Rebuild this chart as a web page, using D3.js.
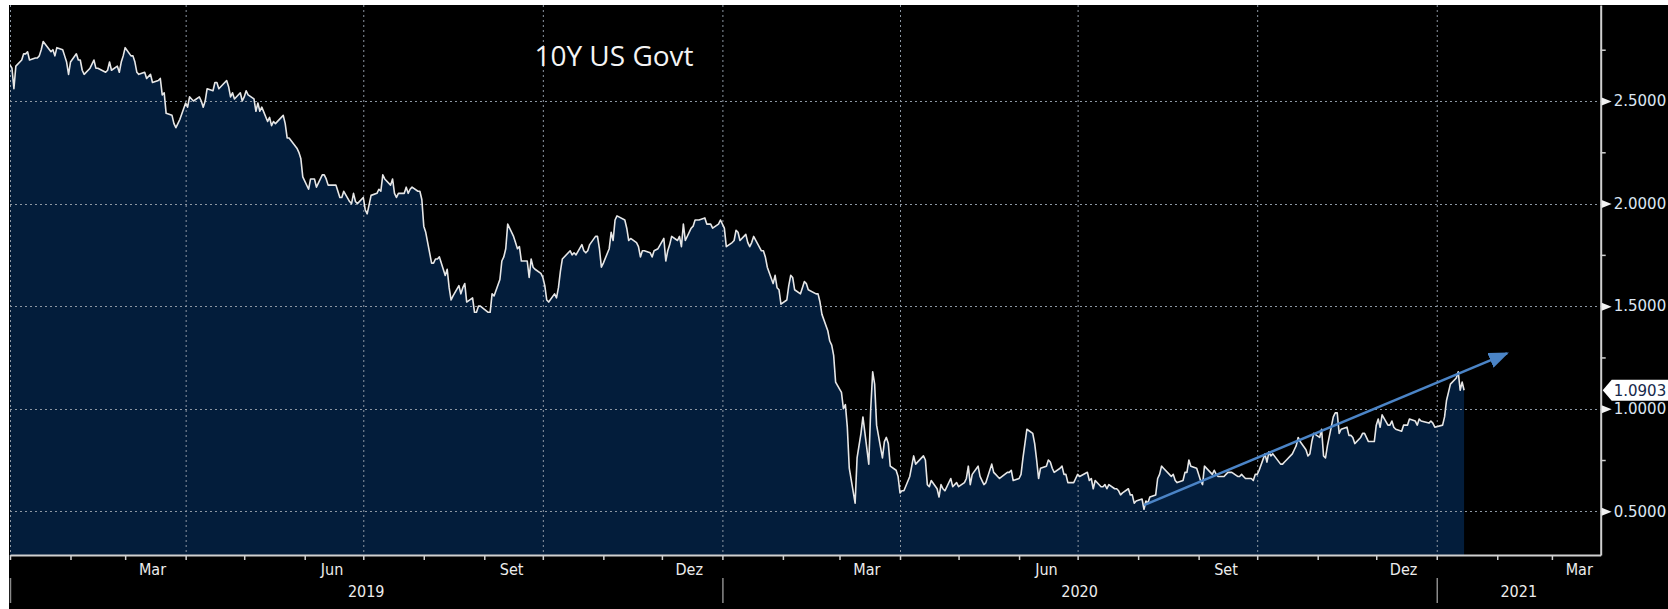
<!DOCTYPE html>
<html>
<head>
<meta charset="utf-8">
<script src="https://cdn.jsdelivr.net/npm/d3@7"></script>
<style>
  html, body { margin: 0; padding: 0; background: #fff; }
  svg { display: block; }
</style>
</head>
<body>
<svg id="chart" width="1668" height="609"></svg>
<script>
// 10Y US Govt yield, daily close (MM-DD, %)
const y2018 = [['12-31', 2.69]];
const y2019 = [
  ['01-02', 2.66], ['01-03', 2.56], ['01-04', 2.67], ['01-07', 2.70], ['01-08', 2.73], ['01-09', 2.73], ['01-10', 2.74],
  ['01-11', 2.70], ['01-14', 2.71], ['01-15', 2.71], ['01-16', 2.72], ['01-17', 2.75], ['01-18', 2.79], ['01-22', 2.74],
  ['01-23', 2.75], ['01-24', 2.72], ['01-25', 2.76], ['01-28', 2.75], ['01-29', 2.72], ['01-30', 2.69], ['01-31', 2.63],
  ['02-01', 2.69], ['02-04', 2.73], ['02-05', 2.70], ['02-06', 2.70], ['02-07', 2.65], ['02-08', 2.63], ['02-11', 2.66],
  ['02-12', 2.68], ['02-13', 2.70], ['02-14', 2.66], ['02-15', 2.66], ['02-19', 2.64], ['02-20', 2.65], ['02-21', 2.69],
  ['02-22', 2.65], ['02-25', 2.67], ['02-26', 2.64], ['02-27', 2.69], ['02-28', 2.72], ['03-01', 2.76], ['03-04', 2.72],
  ['03-05', 2.72], ['03-06', 2.69], ['03-07', 2.64], ['03-08', 2.63], ['03-11', 2.64], ['03-12', 2.61], ['03-13', 2.62],
  ['03-14', 2.63], ['03-15', 2.59], ['03-18', 2.60], ['03-19', 2.61], ['03-20', 2.53], ['03-21', 2.54], ['03-22', 2.44],
  ['03-25', 2.43], ['03-26', 2.39], ['03-27', 2.37], ['03-28', 2.39], ['03-29', 2.41], ['04-01', 2.49], ['04-02', 2.47],
  ['04-03', 2.52], ['04-04', 2.51], ['04-05', 2.50], ['04-08', 2.52], ['04-09', 2.50], ['04-10', 2.47], ['04-11', 2.50],
  ['04-12', 2.56], ['04-15', 2.55], ['04-16', 2.59], ['04-17', 2.59], ['04-18', 2.56], ['04-22', 2.60], ['04-23', 2.57],
  ['04-24', 2.52], ['04-25', 2.54], ['04-26', 2.51], ['04-29', 2.54], ['04-30', 2.50], ['05-01', 2.52], ['05-02', 2.55],
  ['05-03', 2.53], ['05-06', 2.51], ['05-07', 2.45], ['05-08', 2.49], ['05-09', 2.45], ['05-10', 2.47], ['05-13', 2.40],
  ['05-14', 2.42], ['05-15', 2.38], ['05-16', 2.40], ['05-17', 2.39], ['05-20', 2.42], ['05-21', 2.43], ['05-22', 2.39],
  ['05-23', 2.32], ['05-24', 2.32], ['05-28', 2.27], ['05-29', 2.25], ['05-30', 2.22], ['05-31', 2.13], ['06-03', 2.07],
  ['06-04', 2.12], ['06-05', 2.12], ['06-06', 2.12], ['06-07', 2.08], ['06-10', 2.14], ['06-11', 2.14], ['06-12', 2.12],
  ['06-13', 2.09], ['06-14', 2.09], ['06-17', 2.09], ['06-18', 2.06], ['06-19', 2.03], ['06-20', 2.03], ['06-21', 2.06],
  ['06-24', 2.01], ['06-25', 2.00], ['06-26', 2.05], ['06-27', 2.01], ['06-28', 2.00], ['07-01', 2.03], ['07-02', 1.97],
  ['07-03', 1.95], ['07-05', 2.04], ['07-08', 2.05], ['07-09', 2.07], ['07-10', 2.06], ['07-11', 2.14], ['07-12', 2.12],
  ['07-15', 2.09], ['07-16', 2.12], ['07-17', 2.05], ['07-18', 2.03], ['07-19', 2.05], ['07-22', 2.05], ['07-23', 2.08],
  ['07-24', 2.05], ['07-25', 2.07], ['07-26', 2.08], ['07-29', 2.06], ['07-30', 2.06], ['07-31', 2.02], ['08-01', 1.89],
  ['08-02', 1.86], ['08-05', 1.71], ['08-06', 1.71], ['08-07', 1.73], ['08-08', 1.73], ['08-09', 1.74], ['08-12', 1.65],
  ['08-13', 1.68], ['08-14', 1.59], ['08-15', 1.53], ['08-16', 1.55], ['08-19', 1.60], ['08-20', 1.56], ['08-21', 1.59],
  ['08-22', 1.61], ['08-23', 1.52], ['08-26', 1.54], ['08-27', 1.47], ['08-28', 1.47], ['08-29', 1.50], ['08-30', 1.50],
  ['09-03', 1.47], ['09-04', 1.47], ['09-05', 1.56], ['09-06', 1.55], ['09-09', 1.63], ['09-10', 1.72], ['09-11', 1.74],
  ['09-12', 1.78], ['09-13', 1.90], ['09-16', 1.84], ['09-17', 1.81], ['09-18', 1.78], ['09-19', 1.79], ['09-20', 1.72],
  ['09-23', 1.72], ['09-24', 1.64], ['09-25', 1.73], ['09-26', 1.69], ['09-27', 1.68], ['09-30', 1.66], ['10-01', 1.64],
  ['10-02', 1.60], ['10-03', 1.53], ['10-04', 1.52], ['10-07', 1.56], ['10-08', 1.54], ['10-09', 1.59], ['10-10', 1.67],
  ['10-11', 1.73], ['10-15', 1.77], ['10-16', 1.75], ['10-17', 1.76], ['10-18', 1.75], ['10-21', 1.80], ['10-22', 1.77],
  ['10-23', 1.76], ['10-24', 1.77], ['10-25', 1.80], ['10-28', 1.84], ['10-29', 1.84], ['10-30', 1.78], ['10-31', 1.69],
  ['11-01', 1.71], ['11-04', 1.78], ['11-05', 1.86], ['11-06', 1.82], ['11-07', 1.92], ['11-08', 1.94], ['11-12', 1.92],
  ['11-13', 1.88], ['11-14', 1.82], ['11-15', 1.83], ['11-18', 1.81], ['11-19', 1.79], ['11-20', 1.74], ['11-21', 1.77],
  ['11-22', 1.77], ['11-25', 1.76], ['11-26', 1.74], ['11-27', 1.77], ['11-29', 1.78], ['12-02', 1.83], ['12-03', 1.72],
  ['12-04', 1.77], ['12-05', 1.80], ['12-06', 1.84], ['12-09', 1.82], ['12-10', 1.84], ['12-11', 1.79], ['12-12', 1.90],
  ['12-13', 1.82], ['12-16', 1.88], ['12-17', 1.89], ['12-18', 1.92], ['12-19', 1.92], ['12-20', 1.92], ['12-23', 1.93],
  ['12-24', 1.90], ['12-26', 1.90], ['12-27', 1.88], ['12-30', 1.90], ['12-31', 1.92]
];
const y2020 = [
  ['01-02', 1.88], ['01-03', 1.79], ['01-06', 1.81], ['01-07', 1.82], ['01-08', 1.87], ['01-09', 1.86], ['01-10', 1.82],
  ['01-13', 1.85], ['01-14', 1.81], ['01-15', 1.79], ['01-16', 1.81], ['01-17', 1.84], ['01-21', 1.77], ['01-22', 1.77],
  ['01-23', 1.74], ['01-24', 1.69], ['01-27', 1.61], ['01-28', 1.65], ['01-29', 1.59], ['01-30', 1.58], ['01-31', 1.51],
  ['02-03', 1.53], ['02-04', 1.60], ['02-05', 1.65], ['02-06', 1.64], ['02-07', 1.58], ['02-10', 1.56], ['02-11', 1.59],
  ['02-12', 1.62], ['02-13', 1.61], ['02-14', 1.58], ['02-18', 1.56], ['02-19', 1.56], ['02-20', 1.52], ['02-21', 1.46],
  ['02-24', 1.38], ['02-25', 1.33], ['02-26', 1.31], ['02-27', 1.26], ['02-28', 1.13], ['03-02', 1.08], ['03-03', 1.00],
  ['03-04', 1.02], ['03-05', 0.91], ['03-06', 0.71], ['03-09', 0.54], ['03-10', 0.76], ['03-11', 0.82], ['03-12', 0.88],
  ['03-13', 0.96], ['03-16', 0.73], ['03-17', 1.00], ['03-18', 1.18], ['03-19', 1.12], ['03-20', 0.92], ['03-23', 0.76],
  ['03-24', 0.84], ['03-25', 0.86], ['03-26', 0.83], ['03-27', 0.72], ['03-30', 0.70], ['03-31', 0.67], ['04-01', 0.59],
  ['04-02', 0.60], ['04-03', 0.60], ['04-06', 0.67], ['04-07', 0.72], ['04-08', 0.77], ['04-09', 0.73], ['04-13', 0.77],
  ['04-14', 0.75], ['04-15', 0.63], ['04-16', 0.62], ['04-17', 0.65], ['04-20', 0.61], ['04-21', 0.57], ['04-22', 0.63],
  ['04-23', 0.61], ['04-24', 0.60], ['04-27', 0.66], ['04-28', 0.62], ['04-29', 0.63], ['04-30', 0.64], ['05-01', 0.62],
  ['05-04', 0.64], ['05-05', 0.66], ['05-06', 0.72], ['05-07', 0.63], ['05-08', 0.68], ['05-11', 0.72], ['05-12', 0.67],
  ['05-13', 0.65], ['05-14', 0.63], ['05-15', 0.64], ['05-18', 0.73], ['05-19', 0.69], ['05-20', 0.68], ['05-21', 0.67],
  ['05-22', 0.66], ['05-26', 0.69], ['05-27', 0.69], ['05-28', 0.70], ['05-29', 0.65], ['06-01', 0.66], ['06-02', 0.68],
  ['06-03', 0.76], ['06-04', 0.83], ['06-05', 0.90], ['06-08', 0.88], ['06-09', 0.83], ['06-10', 0.75], ['06-11', 0.66],
  ['06-12', 0.71], ['06-15', 0.72], ['06-16', 0.75], ['06-17', 0.74], ['06-18', 0.71], ['06-19', 0.69], ['06-22', 0.71],
  ['06-23', 0.72], ['06-24', 0.68], ['06-25', 0.68], ['06-26', 0.64], ['06-29', 0.64], ['06-30', 0.66], ['07-01', 0.68],
  ['07-02', 0.67], ['07-06', 0.69], ['07-07', 0.65], ['07-08', 0.66], ['07-09', 0.61], ['07-10', 0.65], ['07-13', 0.62],
  ['07-14', 0.62], ['07-15', 0.63], ['07-16', 0.61], ['07-17', 0.63], ['07-20', 0.61], ['07-21', 0.61], ['07-22', 0.60],
  ['07-23', 0.58], ['07-24', 0.59], ['07-27', 0.61], ['07-28', 0.58], ['07-29', 0.58], ['07-30', 0.54], ['07-31', 0.55],
  ['08-03', 0.56], ['08-04', 0.51], ['08-05', 0.55], ['08-06', 0.54], ['08-07', 0.57], ['08-10', 0.58], ['08-11', 0.66],
  ['08-12', 0.68], ['08-13', 0.72], ['08-14', 0.71], ['08-17', 0.68], ['08-18', 0.67], ['08-19', 0.68], ['08-20', 0.65],
  ['08-21', 0.64], ['08-24', 0.65], ['08-25', 0.69], ['08-26', 0.69], ['08-27', 0.75], ['08-28', 0.72], ['08-31', 0.71],
  ['09-01', 0.68], ['09-02', 0.65], ['09-03', 0.63], ['09-04', 0.72], ['09-08', 0.68], ['09-09', 0.70], ['09-10', 0.68],
  ['09-11', 0.67], ['09-14', 0.67], ['09-15', 0.68], ['09-16', 0.69], ['09-17', 0.69], ['09-18', 0.69], ['09-21', 0.67],
  ['09-22', 0.67], ['09-23', 0.68], ['09-24', 0.67], ['09-25', 0.66], ['09-28', 0.66], ['09-29', 0.65], ['09-30', 0.68],
  ['10-01', 0.68], ['10-02', 0.70], ['10-05', 0.78], ['10-06', 0.74], ['10-07', 0.79], ['10-08', 0.77], ['10-09', 0.78],
  ['10-13', 0.73], ['10-14', 0.73], ['10-15', 0.74], ['10-16', 0.75], ['10-19', 0.78], ['10-20', 0.80], ['10-21', 0.82],
  ['10-22', 0.86], ['10-23', 0.84], ['10-26', 0.80], ['10-27', 0.77], ['10-28', 0.78], ['10-29', 0.84], ['10-30', 0.88],
  ['11-02', 0.86], ['11-03', 0.90], ['11-04', 0.77], ['11-05', 0.76], ['11-06', 0.82], ['11-09', 0.96], ['11-10', 0.98],
  ['11-11', 0.98], ['11-12', 0.88], ['11-13', 0.90], ['11-16', 0.91], ['11-17', 0.87], ['11-18', 0.87], ['11-19', 0.86],
  ['11-20', 0.83], ['11-23', 0.86], ['11-24', 0.88], ['11-25', 0.88], ['11-27', 0.84], ['11-30', 0.84], ['12-01', 0.92],
  ['12-02', 0.95], ['12-03', 0.91], ['12-04', 0.97], ['12-07', 0.92], ['12-08', 0.92], ['12-09', 0.94], ['12-10', 0.91],
  ['12-11', 0.90], ['12-14', 0.89], ['12-15', 0.92], ['12-16', 0.92], ['12-17', 0.92], ['12-18', 0.95], ['12-21', 0.94],
  ['12-22', 0.92], ['12-23', 0.95], ['12-24', 0.94], ['12-28', 0.93], ['12-29', 0.94], ['12-30', 0.93], ['12-31', 0.91]
];
const y2021 = [
  ['01-04', 0.92], ['01-05', 0.96], ['01-06', 1.04], ['01-07', 1.08], ['01-08', 1.12], ['01-11', 1.15], ['01-12', 1.18],
  ['01-13', 1.09], ['01-14', 1.13], ['01-15', 1.0903]
];

// axis / annotation values
const yTicks = [0.5, 1.0, 1.5, 2.0, 2.5];
const yMinorTicks = [0.75, 1.25, 1.75, 2.25, 2.75];
const monthNames = ['Jan', 'Fev', 'Mar', 'Abr', 'Mai', 'Jun', 'Jul', 'Ago', 'Set', 'Out', 'Nov', 'Dez'];
const labelMonths = [2, 5, 8, 11];
const years = [2019, 2020, 2021];
const lastValue = 1.0903;
const trendStart = ['2020-08-04', 0.53];
const trendEnd = ['2021-02-06', 1.27];
const title = '10Y US Govt';

const parse = d3.timeParse('%Y-%m-%d');
const series = [[2018, y2018], [2019, y2019], [2020, y2020], [2021, y2021]]
  .flatMap(([yr, arr]) => arr.map(([md, v]) => ({ date: parse(yr + '-' + md), value: v })));

const W = 1668, H = 609;
const plot = { left: 10, right: 1600.7, top: 5, bottom: 555 };

const svg = d3.select('#chart');

// black screen area (white strip left / top like the screenshot)
svg.append('rect')
  .attr('x', 9).attr('y', 5).attr('width', W - 9).attr('height', H - 5)
  .attr('fill', '#000');

const x = d3.scaleTime()
  .domain([new Date(2019, 0, 1), new Date(2021, 2, 26)])
  .range([plot.left, plot.right]);
const y = d3.scaleLinear()
  .domain([0.287, 2.968])
  .range([plot.bottom, plot.top]);

svg.append('clipPath').attr('id', 'plotClip')
  .append('rect')
  .attr('x', plot.left).attr('y', plot.top)
  .attr('width', plot.right - plot.left).attr('height', plot.bottom - plot.top);

const g = svg.append('g').attr('clip-path', 'url(#plotClip)');

// area fill
const area = d3.area()
  .x(d => x(d.date))
  .y0(plot.bottom)
  .y1(d => y(d.value));
g.append('path')
  .datum(series)
  .attr('d', area)
  .attr('fill', '#031d3b');

// dotted grid
const quarters = d3.timeMonth.every(3).range(new Date(2019, 0, 1), x.domain()[1]);
g.selectAll('line.vgrid')
  .data(quarters)
  .join('line')
  .attr('class', 'vgrid')
  .attr('x1', d => x(d) + 0.5).attr('x2', d => x(d) + 0.5)
  .attr('y1', plot.top).attr('y2', plot.bottom)
  .attr('stroke', '#8d97a3')
  .attr('stroke-width', 1)
  .attr('stroke-dasharray', '2,3');
g.selectAll('line.hgrid')
  .data(yTicks)
  .join('line')
  .attr('class', 'hgrid')
  .attr('x1', plot.left).attr('x2', plot.right)
  .attr('y1', d => Math.round(y(d)) + 0.5).attr('y2', d => Math.round(y(d)) + 0.5)
  .attr('stroke', '#8d97a3')
  .attr('stroke-width', 1)
  .attr('stroke-dasharray', '2,3');

// price line
const line = d3.line()
  .x(d => x(d.date))
  .y(d => y(d.value));
g.append('path')
  .datum(series)
  .attr('d', line)
  .attr('fill', 'none')
  .attr('stroke', '#e6e6e6')
  .attr('stroke-width', 1.6)
  .attr('stroke-linejoin', 'round');

// trend arrow
svg.append('defs').append('marker')
  .attr('id', 'arrowHead')
  .attr('markerUnits', 'userSpaceOnUse')
  .attr('markerWidth', 20).attr('markerHeight', 16)
  .attr('refX', 18).attr('refY', 8)
  .attr('orient', 'auto')
  .append('path')
  .attr('d', 'M0,0 L20,8 L0,16 Z')
  .attr('fill', '#4b84c6');
svg.append('line')
  .attr('x1', x(parse(trendStart[0]))).attr('y1', y(trendStart[1]))
  .attr('x2', x(parse(trendEnd[0]))).attr('y2', y(trendEnd[1]))
  .attr('stroke', '#4b84c6')
  .attr('stroke-width', 2.6)
  .attr('marker-end', 'url(#arrowHead)');

// bottom axis: month ticks
const xAxis = svg.append('g')
  .attr('transform', `translate(0,${plot.bottom})`)
  .call(d3.axisBottom(x)
    .tickValues(d3.timeMonth.range(new Date(2019, 0, 1), x.domain()[1]))
    .tickFormat('')
    .tickSize(5)
    .tickSizeOuter(0));
xAxis.select('.domain').attr('stroke', '#d0d0d0').attr('stroke-width', 2);
xAxis.selectAll('.tick line').attr('stroke', '#d0d0d0').attr('stroke-width', 1.5);

const labelFont = '"DejaVu Sans Condensed", "Liberation Sans Narrow", sans-serif';
const monthLabels = d3.timeMonth.range(new Date(2019, 0, 1), x.domain()[1])
  .filter(d => labelMonths.includes(d.getMonth()));
svg.selectAll('text.month')
  .data(monthLabels)
  .join('text')
  .attr('class', 'month')
  .attr('x', d => x(d3.timeDay.offset(d, 14)))
  .attr('y', 575)
  .attr('text-anchor', 'middle')
  .attr('fill', '#ececec')
  .style('font-family', labelFont)
  .style('font-size', '16px')
  .text(d => monthNames[d.getMonth()]);

// year labels centred in the visible part of each year + dividers
svg.selectAll('text.year')
  .data(years)
  .join('text')
  .attr('class', 'year')
  .attr('x', d => {
    const a = Math.max(x(new Date(d, 0, 1)), plot.left);
    const b = Math.min(x(new Date(d + 1, 0, 1)), plot.right);
    return (a + b) / 2;
  })
  .attr('y', 597)
  .attr('text-anchor', 'middle')
  .attr('fill', '#ececec')
  .style('font-family', labelFont)
  .style('font-size', '16px')
  .text(d => d);
svg.selectAll('line.yearsep')
  .data(years)
  .join('line')
  .attr('class', 'yearsep')
  .attr('x1', d => x(new Date(d, 0, 1)) + 0.5).attr('x2', d => x(new Date(d, 0, 1)) + 0.5)
  .attr('y1', 578).attr('y2', 603)
  .attr('stroke', '#8a8a8a')
  .attr('stroke-width', 1.5);

// right axis
const yAxis = svg.append('g')
  .attr('transform', `translate(${plot.right},0)`)
  .call(d3.axisRight(y)
    .tickValues(yTicks)
    .tickFormat(d3.format('.4f'))
    .tickSize(0)
    .tickSizeOuter(0)
    .tickPadding(13));
yAxis.select('.domain').attr('stroke', '#d0d0d0').attr('stroke-width', 2);
yAxis.selectAll('.tick text')
  .attr('fill', '#dce6f3')
  .style('font-family', '"DejaVu Sans", sans-serif')
  .style('font-size', '15px');
yAxis.selectAll('.tick').append('path')
  .attr('d', 'M1,-4 L11,0 L1,4 Z')
  .attr('fill', '#f2f2f2');

const yMinor = svg.append('g')
  .attr('transform', `translate(${plot.right},0)`)
  .call(d3.axisRight(y).tickValues(yMinorTicks).tickFormat('').tickSize(5).tickSizeOuter(0));
yMinor.select('.domain').remove();
yMinor.selectAll('.tick line').attr('stroke', '#d0d0d0').attr('stroke-width', 1.5);

// last value tag
const yl = y(lastValue);
svg.append('path')
  .attr('d', `M${plot.right + 2},${yl} L${plot.right + 11},${yl - 10.5} L${W + 2},${yl - 10.5} L${W + 2},${yl + 10.5} L${plot.right + 11},${yl + 10.5} Z`)
  .attr('fill', '#ffffff');
svg.append('text')
  .attr('x', plot.right + 13)
  .attr('y', yl)
  .attr('dy', '0.36em')
  .attr('fill', '#15284a')
  .style('font-family', '"DejaVu Sans", sans-serif')
  .style('font-size', '15px')
  .text(d3.format('.4f')(lastValue));

// title
svg.append('text')
  .attr('x', 614)
  .attr('y', 66)
  .attr('text-anchor', 'middle')
  .attr('fill', '#f4f4f4')
  .style('font-family', '"Open Sans", "Noto Sans", sans-serif')
  .style('font-size', '28px')
  .text(title);
</script>
</body>
</html>
